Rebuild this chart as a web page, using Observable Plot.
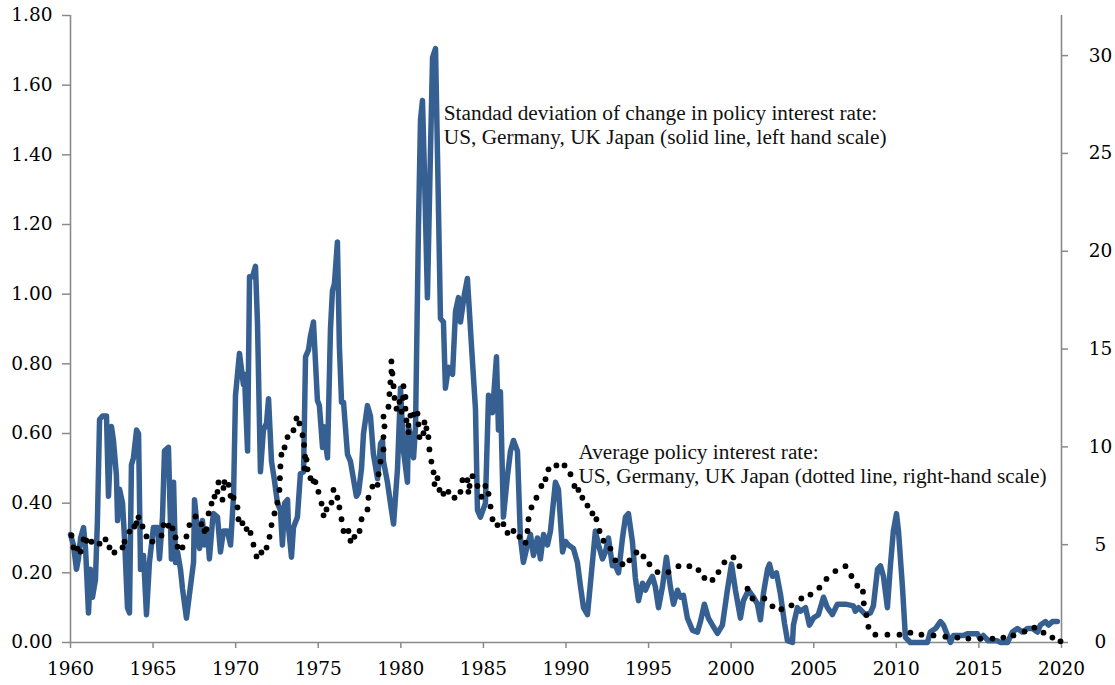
<!DOCTYPE html>
<html>
<head>
<meta charset="utf-8">
<script src="https://cdn.jsdelivr.net/npm/d3@7"></script>
<script src="https://cdn.jsdelivr.net/npm/@observablehq/plot@0.6"></script>
<style>
  html, body { margin: 0; padding: 0; background: #fff; }
  #chart svg { display: block; }
</style>
</head>
<body>
<div id="chart"></div>
<script>
// ---- Tick labels ----
const xTicks = [1960, 1965, 1970, 1975, 1980, 1985, 1990, 1995, 2000, 2005, 2010, 2015, 2020];
const leftTicks = [0, 0.2, 0.4, 0.6, 0.8, 1.0, 1.2, 1.4, 1.6, 1.8];
const rightTicks = [0, 5, 10, 15, 20, 25, 30];
const rightMax = 32.05; // right-hand scale top (aligned with 1.80 on the left)

// ---- Standard deviation of change in policy rate (solid, left scale) ----
const sdYears = [
  1960.00,1960.18,1960.36,1960.48,1960.61,1960.79,1960.91,1961.09,1961.21,1961.33,1961.51,1961.63,1961.76,1961.94,
  1962.18,1962.30,1962.48,1962.60,1962.78,1962.85,1962.97,1963.15,1963.27,1963.45,1963.57,1963.69,1963.81,1964.00,
  1964.12,1964.24,1964.42,1964.60,1964.78,1965.02,1965.27,1965.39,1965.57,1965.69,1965.93,1966.11,1966.24,1966.36,
  1966.48,1966.66,1966.78,1967.02,1967.26,1967.45,1967.51,1967.69,1967.81,1967.99,1968.11,1968.29,1968.41,1968.60,
  1968.66,1968.90,1969.08,1969.26,1969.50,1969.69,1969.87,1969.99,1970.23,1970.47,1970.53,1970.72,1970.84,1971.02,
  1971.20,1971.32,1971.50,1971.68,1971.87,1971.99,1972.17,1972.35,1972.53,1972.71,1972.83,1972.96,1973.14,1973.20,
  1973.38,1973.50,1973.74,1973.92,1974.11,1974.23,1974.41,1974.53,1974.71,1974.95,1975.07,1975.26,1975.32,1975.56,
  1975.74,1975.86,1975.98,1976.16,1976.28,1976.41,1976.53,1976.77,1976.95,1977.13,1977.31,1977.44,1977.62,1977.74,
  1977.98,1978.16,1978.34,1978.59,1978.77,1978.89,1978.95,1979.19,1979.37,1979.56,1979.80,1979.98,1980.16,1980.40,
  1980.46,1980.70,1980.77,1980.89,1981.07,1981.19,1981.31,1981.43,1981.61,1981.79,1981.92,1982.10,1982.22,1982.40,
  1982.58,1982.70,1982.88,1983.13,1983.31,1983.49,1983.61,1983.85,1984.03,1984.28,1984.52,1984.64,1984.82,1985.12,
  1985.31,1985.55,1985.79,1985.91,1986.03,1986.21,1986.46,1986.64,1986.82,1987.06,1987.24,1987.42,1987.67,1987.85,
  1988.03,1988.27,1988.45,1988.64,1988.88,1989.06,1989.36,1989.54,1989.79,1989.97,1990.15,1990.45,1990.69,1990.88,
  1991.06,1991.30,1991.48,1991.78,1991.97,1992.21,1992.39,1992.57,1992.81,1993.00,1993.18,1993.42,1993.60,1993.78,
  1994.02,1994.20,1994.39,1994.63,1994.81,1994.99,1995.23,1995.41,1995.60,1995.84,1996.08,1996.32,1996.51,1996.75,
  1996.93,1997.11,1997.35,1997.66,1997.96,1998.14,1998.38,1998.62,1998.93,1999.17,1999.47,1999.77,2000.02,2000.26,
  2000.56,2000.74,2001.05,2001.35,2001.59,2001.77,2001.95,2002.20,2002.32,2002.50,2002.74,2002.98,2003.23,2003.41,
  2003.71,2003.77,2004.01,2004.19,2004.50,2004.74,2004.98,2005.28,2005.59,2005.83,2006.13,2006.43,2006.92,2007.40,
  2007.52,2007.71,2008.13,2008.43,2008.61,2008.86,2009.04,2009.22,2009.46,2009.64,2009.82,2010.01,2010.13,2010.37,
  2010.55,2010.85,2011.88,2012.06,2012.37,2012.67,2012.85,2013.10,2013.28,2013.46,2014.06,2014.30,2014.91,2015.09,
  2015.27,2015.57,2016.12,2016.30,2016.73,2017.03,2017.33,2017.63,2017.94,2018.24,2018.54,2018.72,2019.03,2019.21,
  2019.45,2019.75
];
const sdValues = [
  0.31,0.28,0.21,0.24,0.30,0.33,0.27,0.085,0.21,0.13,0.18,0.35,0.64,0.65,
  0.65,0.42,0.62,0.58,0.48,0.35,0.44,0.40,0.30,0.10,0.085,0.51,0.53,0.61,
  0.60,0.21,0.25,0.08,0.23,0.33,0.33,0.24,0.36,0.55,0.56,0.24,0.46,0.23,
  0.26,0.21,0.155,0.07,0.16,0.23,0.41,0.32,0.27,0.35,0.28,0.32,0.24,0.35,
  0.37,0.36,0.26,0.32,0.32,0.28,0.42,0.71,0.83,0.74,0.77,0.55,1.05,1.05,
  1.08,0.92,0.49,0.61,0.63,0.70,0.52,0.465,0.40,0.38,0.28,0.40,0.41,0.33,
  0.245,0.33,0.36,0.485,0.49,0.82,0.84,0.88,0.92,0.695,0.68,0.56,0.62,0.53,
  0.90,1.01,1.03,1.15,0.85,0.69,0.69,0.54,0.52,0.47,0.42,0.43,0.50,0.60,
  0.68,0.65,0.54,0.47,0.57,0.58,0.52,0.46,0.40,0.34,0.50,0.73,0.55,0.46,
  0.62,0.57,0.53,0.62,1.20,1.50,1.556,1.35,0.99,1.40,1.68,1.705,1.40,0.93,
  0.92,0.73,0.79,0.77,0.95,0.99,0.92,1.00,1.045,0.85,0.67,0.38,0.36,0.40,
  0.71,0.66,0.82,0.61,0.72,0.36,0.48,0.55,0.58,0.55,0.30,0.23,0.28,0.31,
  0.25,0.30,0.24,0.31,0.28,0.32,0.46,0.44,0.26,0.29,0.28,0.27,0.23,0.16,
  0.10,0.08,0.17,0.32,0.28,0.24,0.26,0.30,0.22,0.22,0.20,0.30,0.36,0.37,
  0.29,0.185,0.12,0.17,0.15,0.17,0.19,0.16,0.10,0.16,0.245,0.16,0.11,0.15,
  0.13,0.135,0.07,0.035,0.03,0.06,0.11,0.07,0.045,0.026,0.05,0.15,0.225,0.15,
  0.07,0.12,0.15,0.13,0.11,0.065,0.14,0.21,0.225,0.19,0.20,0.14,0.055,0.005,
  0.0,0.05,0.10,0.09,0.10,0.05,0.07,0.08,0.13,0.10,0.08,0.11,0.11,0.105,
  0.09,0.10,0.08,0.085,0.105,0.21,0.22,0.19,0.10,0.22,0.32,0.37,0.32,0.16,
  0.015,0.0,0.0,0.03,0.04,0.06,0.05,0.02,0.0,0.02,0.02,0.025,0.025,0.01,
  0.02,0.005,0.005,0.0,0.0,0.03,0.04,0.03,0.04,0.04,0.03,0.05,0.06,0.05,
  0.06,0.06
];

// ---- Average policy interest rate (dotted, right scale, %) ----
const rateYears = [
  1960.06,1960.18,1960.42,1960.61,1960.79,1960.97,1961.27,1961.76,1962.12,1962.36,1962.66,1963.15,1963.27,1963.57,
  1963.87,1963.99,1964.12,1964.36,1964.60,1964.96,1965.51,1965.63,1965.93,1966.18,1966.36,1966.48,1966.78,1967.02,
  1967.20,1967.57,1967.93,1968.11,1968.23,1968.36,1968.54,1968.72,1968.90,1968.96,1969.20,1969.26,1969.32,1969.57,
  1969.69,1969.87,1970.11,1970.17,1970.41,1970.66,1970.90,1971.08,1971.26,1971.56,1971.87,1972.05,1972.17,1972.35,
  1972.53,1972.65,1972.68,1972.71,1972.77,1972.96,1973.14,1973.50,1973.68,1973.86,1974.05,1974.14,1974.20,1974.29,
  1974.17,1974.35,1974.53,1974.71,1974.83,1975.01,1975.20,1975.32,1975.50,1975.80,1975.92,1976.16,1976.28,1976.41,
  1976.53,1976.83,1976.95,1977.19,1977.50,1977.62,1977.98,1978.04,1978.28,1978.59,1978.65,1978.77,1978.95,1978.95,
  1979.01,1978.95,1979.25,1979.31,1979.37,1979.43,1979.43,1979.49,1979.56,1979.62,1979.74,1979.92,1980.04,1980.13,
  1980.16,1980.28,1980.28,1980.34,1980.46,1980.46,1980.58,1980.77,1981.01,1981.07,1981.13,1981.37,1981.43,1981.55,
  1981.67,1981.73,1981.85,1981.98,1982.04,1982.22,1982.34,1982.58,1982.88,1983.25,1983.61,1983.73,1984.03,1984.09,
  1984.16,1984.34,1984.64,1984.88,1985.12,1985.31,1985.43,1985.55,1985.85,1986.21,1986.46,1986.82,1987.18,1987.55,
  1987.67,1987.73,1987.91,1988.21,1988.51,1988.76,1988.94,1989.42,1989.91,1990.27,1990.51,1990.75,1990.99,1991.30,
  1991.60,1991.84,1992.03,1992.27,1992.69,1992.99,1993.42,1993.84,1994.26,1994.69,1995.05,1995.54,1996.20,1996.81,
  1997.47,1998.02,1998.38,1998.87,1999.23,1999.59,2000.14,2000.50,2000.99,2001.29,2002.01,2002.50,2003.04,2003.65,
  2004.25,2004.80,2005.34,2005.77,2006.31,2006.92,2007.28,2007.64,2007.98,2008.03,2008.19,2008.31,2008.73,2009.46,
  2010.19,2010.85,2011.52,2012.25,2012.97,2013.70,2014.36,2015.09,2015.82,2016.48,2017.09,2017.76,2018.36,2018.91,
  2019.45,2019.94
];
const rateValues = [
  5.47,4.86,4.8,4.65,5.27,5.2,5.15,5.05,5.27,4.86,4.6,4.86,5.15,5.67,
  5.93,6.1,6.4,5.93,5.42,5.16,5.47,6.0,5.97,5.83,5.37,4.9,4.86,5.42,
  6.0,6.44,6.05,5.7,5.8,6.6,7.1,7.46,7.7,8.18,7.3,7.9,8.2,8.06,
  7.5,7.4,6.9,6.3,6.1,5.8,5.6,5.0,4.4,4.6,4.85,5.4,6.0,6.6,
  7.15,7.8,8.4,9.0,9.6,9.97,10.5,10.85,11.45,11.2,10.6,10.1,9.5,9.35,
  8.9,8.85,8.4,8.25,8.2,7.7,7.1,6.5,6.8,7.15,7.8,7.4,6.9,6.3,
  5.7,5.7,5.2,5.4,5.7,6.3,6.8,7.4,7.97,8.06,8.6,9.25,9.87,10.5,
  11.05,11.55,12.05,12.7,13.3,13.85,14.37,13.75,13.1,12.5,11.95,12.3,11.8,12.5,
  13.1,12.55,11.95,11.35,11.1,10.75,11.6,11.65,11.7,11.15,10.5,10.7,11.25,10.95,
  10.5,9.87,9.25,8.7,8.1,8.4,7.8,7.6,7.7,7.4,7.7,8.3,8.3,7.7,
  8.0,8.5,8.0,7.45,8.0,7.6,6.95,6.3,6.0,6.05,5.6,5.7,5.4,5.1,
  5.7,6.3,6.9,7.4,8.0,8.35,8.85,9.05,9.05,8.6,8.0,7.8,7.4,7.0,
  6.6,6.3,5.7,5.2,4.8,4.2,4.0,4.2,4.6,4.4,4.0,3.6,3.6,3.9,
  3.9,3.7,3.3,3.2,3.6,4.1,4.35,3.9,2.75,2.25,2.25,1.85,1.7,1.9,
  2.25,2.45,2.8,3.25,3.65,3.9,3.4,2.9,2.6,2.0,1.4,0.8,0.4,0.4,
  0.4,0.5,0.4,0.36,0.3,0.25,0.2,0.2,0.2,0.25,0.36,0.56,0.76,0.5,
  0.25,0.06
];

const note1 = "Standad deviation of change in policy interest rate:\nUS, Germany, UK Japan (solid line, left hand scale)";
const note2 = "Average policy interest rate:\nUS, Germany, UK Japan (dotted line, right-hand scale)";

// ---- Build tables ----
const k = 1.8 / rightMax; // right-scale value -> left-scale units
const sd = sdYears.map((t, i) => ({year: t, value: sdValues[i]}));
const rate = rateYears.map((t, i) => ({year: t, value: rateValues[i] * k}));

const axisGray = "#8a8a8a";
const tickFont = "'DejaVu Serif', Georgia, serif";
const noteFont = "'Liberation Serif', 'Times New Roman', serif";

const chart = Plot.plot({
  width: 1115,
  height: 685,
  marginLeft: 70,
  marginRight: 54,
  marginTop: 15,
  marginBottom: 43,
  style: {fontFamily: tickFont, fontSize: "18.5px", color: "#000", background: "#fff", overflow: "visible"},
  x: {domain: [1960, 2020]},
  y: {domain: [0, 1.8]},
  marks: [
    Plot.ruleX([1960], {stroke: axisGray, strokeWidth: 1.6}),
    Plot.ruleX([2020], {stroke: axisGray, strokeWidth: 1.6}),
    Plot.ruleY([0], {stroke: axisGray, strokeWidth: 1.6}),
    Plot.axisX({ticks: xTicks, tickFormat: d => String(d), tickSize: 6, tickPadding: 13, stroke: axisGray, strokeWidth: 1.5, fill: "#000", label: null}),
    Plot.axisY({anchor: "left", ticks: leftTicks, tickFormat: d => d.toFixed(2), tickSize: 8, tickPadding: 10, stroke: axisGray, strokeWidth: 1.5, fill: "#000", label: null}),
    Plot.axisY({anchor: "right", ticks: rightTicks.map(v => v * k), tickFormat: d => String(Math.round(d / k)), tickSize: 6, tickPadding: 33, textAnchor: "middle", stroke: axisGray, strokeWidth: 1.5, fill: "#000", label: null}),
    Plot.line(sd, {x: "year", y: "value", stroke: "#376092", strokeWidth: 5.5, strokeLinejoin: "round", strokeLinecap: "round"}),
    Plot.dot(rate, {x: "year", y: "value", r: 2.9, fill: "#000", stroke: null}),
    Plot.text([note1], {x: () => 1982.6, y: () => 1.55, text: d => d, textAnchor: "start", lineAnchor: "top", lineHeight: 1.13, fontFamily: noteFont, fontSize: 21.3, fill: "#111"}),
    Plot.text([note2], {x: () => 1990.75, y: () => 0.577, text: d => d, textAnchor: "start", lineAnchor: "top", lineHeight: 1.13, fontFamily: noteFont, fontSize: 21.3, fill: "#111"})
  ]
});
document.getElementById("chart").appendChild(chart);
</script>
</body>
</html>
